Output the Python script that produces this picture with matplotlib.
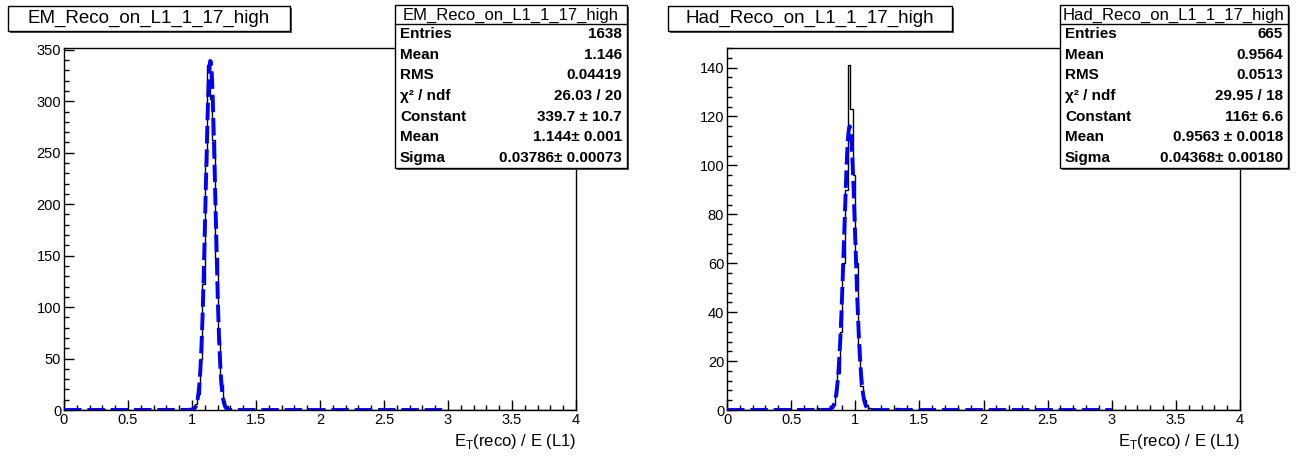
import numpy as np
import matplotlib.pyplot as plt
from matplotlib.patches import Rectangle
from matplotlib.ticker import MultipleLocator

plt.rcParams['font.family'] = ['Liberation Sans', 'DejaVu Sans']
plt.rcParams['mathtext.fontset'] = 'custom'
plt.rcParams['mathtext.rm'] = 'Liberation Sans'

W, H = 1303, 458

############################################################
# Data (200 bins over [0, 4])
nbins, xlow, xhigh = 200, 0.0, 4.0

em_name = 'EM_Reco_on_L1_1_17_high'
em_bin_lo = [0.30, 0.96, 0.98, 1.00, 1.02, 1.04, 1.06, 1.08, 1.10, 1.12, 1.14,
             1.16, 1.18, 1.20, 1.22, 1.24, 1.26, 1.28, 1.40, 1.62, 2.14]
em_counts = [1, 1, 2, 3, 6, 16, 50, 122, 239, 335, 302,
             262, 148, 68, 24, 9, 4, 2, 1, 1, 1]
em_fit = [339.7, 1.144, 0.03786]   # constant, mean, sigma
em_ymax = 351.8
em_stats = [('Entries', '1638'), ('Mean', '1.146'), ('RMS', '0.04419'),
            ('χ² / ndf', '26.03 / 20'), ('Constant', '339.7 ± 10.7'),
            ('Mean', '1.144± 0.001'), ('Sigma', '0.03786± 0.00073')]

had_name = 'Had_Reco_on_L1_1_17_high'
had_bin_lo = [0.70, 0.80, 0.82, 0.84, 0.86, 0.88, 0.90, 0.92, 0.94, 0.96, 0.98,
              1.00, 1.02, 1.04, 1.06, 1.08, 1.10, 1.32]
had_counts = [1, 1, 2, 6, 15, 32, 60, 90, 141, 123, 96,
              60, 26, 10, 4, 2, 1, 1]
had_fit = [116.0, 0.9563, 0.04368]
had_ymax = 148.0
had_stats = [('Entries', '665'), ('Mean', '0.9564'), ('RMS', '0.0513'),
             ('χ² / ndf', '29.95 / 18'), ('Constant', '116± 6.6'),
             ('Mean', '0.9563 ± 0.0018'), ('Sigma', '0.04368± 0.00180')]

fit_range = [0.0, 3.0]
xlabel = r'E$_{\mathrm{T}}$(reco) / E (L1)'

############################################################
# Plotting

fig = plt.figure(figsize=(W / 100, H / 100), dpi=100)


def fx(x):
    return x / W


def fy(y):
    return 1 - y / H


def box(x0, y0, x1, y1, lw=1.0):
    # ROOT-like pave with a grey shadow
    fig.patches.append(Rectangle((fx(x0 + 2), fy(y1 + 2)), fx(x1 - x0), (y1 - y0) / H,
                                 transform=fig.transFigure, fc='#555555', ec='none', zorder=5))
    fig.patches.append(Rectangle((fx(x0), fy(y1)), fx(x1 - x0), (y1 - y0) / H,
                                 transform=fig.transFigure, fc='white', ec='black',
                                 lw=lw, zorder=6))


def panel(ax_px, title_px, stat_px, name, bin_lo, counts, fit, ymax, stats,
          ymajor, yminor):
    x0, y0, x1, y1 = ax_px
    ax = fig.add_axes([fx(x0), fy(y1), fx(x1 - x0), (y1 - y0) / H])

    edges = np.linspace(xlow, xhigh, nbins + 1)
    h = np.zeros(nbins)
    idx = np.round((np.array(bin_lo) - xlow) / (xhigh - xlow) * nbins).astype(int)
    h[idx] = counts
    ax.stairs(h, edges, color='black', lw=1.0, zorder=2)

    xf = np.linspace(fit_range[0], fit_range[1], 600)
    yf = fit[0] * np.exp(-0.5 * ((xf - fit[1]) / fit[2]) ** 2)
    ax.plot(xf, yf, color='blue', lw=2.8, ls=(0, (4.5, 1.5)), zorder=3)

    ax.set_xlim(xlow, xhigh)
    ax.set_ylim(0, ymax)
    ax.xaxis.set_major_locator(MultipleLocator(0.5))
    ax.xaxis.set_minor_locator(MultipleLocator(0.1))
    ax.yaxis.set_major_locator(MultipleLocator(ymajor))
    ax.yaxis.set_minor_locator(MultipleLocator(yminor))
    ax.xaxis.set_major_formatter(lambda v, p: '%g' % v)
    ax.tick_params(which='both', direction='in', top=False, right=False,
                   labelsize=10.5, pad=2)
    ax.tick_params(which='major', length=7, width=1)
    ax.tick_params(which='minor', length=3.5, width=1)
    for s in ax.spines.values():
        s.set_linewidth(1.0)
    ax.set_xlabel(xlabel, fontsize=12, ha='right', x=1.0, labelpad=4)

    # title pave
    tx0, ty0, tx1, ty1 = title_px
    box(tx0, ty0, tx1, ty1)
    fig.text(fx((tx0 + tx1) / 2), fy((ty0 + ty1) / 2), name, ha='center',
             va='center', fontsize=13.5, zorder=7)

    # stats pave
    sx0, sy0, sx1, sy1 = stat_px
    box(sx0, sy0, sx1, sy1)
    sep = sy0 + 19
    fig.lines.append(plt.Line2D([fx(sx0), fx(sx1)], [fy(sep), fy(sep)],
                                transform=fig.transFigure, color='black', lw=1, zorder=7))
    fig.text(fx((sx0 + sx1) / 2), fy((sy0 + sep) / 2 + 0.5), name, ha='center',
             va='center', fontsize=12, zorder=7)
    row_h = (sy1 - sep) / len(stats)
    for i, (k, v) in enumerate(stats):
        yy = sep + row_h * (i + 0.5)
        fig.text(fx(sx0 + 5), fy(yy), k, ha='left', va='center', fontsize=11,
                 fontweight='bold', zorder=7)
        fig.text(fx(sx1 - 5), fy(yy), v, ha='right', va='center', fontsize=11,
                 fontweight='bold', zorder=7)
    return ax


panel((64, 48, 576, 410), (8, 6, 290, 31), (395, 5, 627, 168), em_name,
      em_bin_lo, em_counts, em_fit, em_ymax, em_stats, 50, 10)
panel((727, 48, 1240, 410), (668, 6, 952, 31), (1060, 5, 1288, 168), had_name,
      had_bin_lo, had_counts, had_fit, had_ymax, had_stats, 20, 4)

plt.savefig('out.png', dpi=100)
